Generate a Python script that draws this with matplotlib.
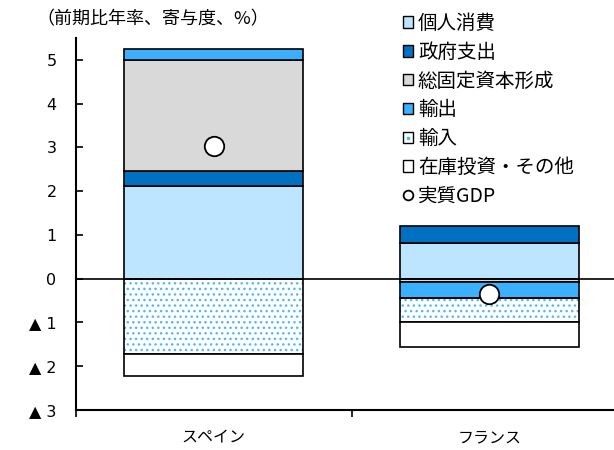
import matplotlib
matplotlib.use("Agg")
import matplotlib.pyplot as plt
import numpy as np
from matplotlib.patches import Patch
from matplotlib.lines import Line2D
from matplotlib.legend_handler import HandlerTuple

plt.rcParams['font.family'] = ['Noto Sans CJK JP', 'DejaVu Sans']

# data
countries = ['スペイン', 'フランス']
consumption = [2.11, 0.81]
government = [0.34, 0.40]
investment = [2.55, -0.07]
exports = [0.26, -0.36]
imports = [-1.72, -0.56]
inventory = [-0.50, -0.57]
gdp = [3.04, -0.34]

yticks = [-3, -2, -1, 0, 1, 2, 3, 4, 5]
ytick_labels = ['▲ 3', '▲ 2', '▲ 1', '0', '1', '2', '3', '4', '5']

series = [
    ('個人消費', consumption, '#BDE5FF', None),
    ('政府支出', government, '#0070C0', None),
    ('総固定資本形成', investment, '#D9D9D9', None),
    ('輸出', exports, '#3BB0FF', None),
    ('輸入', imports, 'white', '...'),
    ('在庫投資・その他', inventory, 'white', None),
]
dot_color = '#4DB8FF'

fig = plt.figure(figsize=(6.14, 4.5), dpi=100)
ax = fig.add_axes([76 / 614, 1 - 410 / 450, 551 / 614, 372 / 450])

x = np.arange(len(countries))
width = 0.65
pos_base = np.zeros(len(countries))
neg_base = np.zeros(len(countries))
for name, vals, color, hatch in series:
    vals = np.array(vals)
    bottoms = np.where(vals >= 0, pos_base, neg_base)
    if hatch:
        ax.bar(x, vals, width, bottom=bottoms, color=color, edgecolor=dot_color,
               hatch=hatch, linewidth=0, zorder=2)
        ax.bar(x, vals, width, bottom=bottoms, facecolor='none', edgecolor='black',
               linewidth=1.2, zorder=3)
    else:
        ax.bar(x, vals, width, bottom=bottoms, color=color, edgecolor='black',
               linewidth=1.2, zorder=3)
    pos_base = pos_base + np.where(vals >= 0, vals, 0)
    neg_base = neg_base + np.where(vals < 0, vals, 0)

ax.axhline(0, color='black', linewidth=1.2, zorder=4)
ax.plot(x, gdp, 'o', markersize=14, markerfacecolor='white', markeredgecolor='black',
        markeredgewidth=1.3, zorder=5)

ax.set_xlim(-0.5, 1.5)
ax.set_ylim(-3, 5.5)
ax.set_yticks(yticks)
ax.set_yticklabels(ytick_labels, fontsize=11.5, family=['DejaVu Sans'])
ax.tick_params(axis='y', direction='in', length=5, width=1.2, pad=14)
ax.set_xticks(x)
ax.set_xticklabels(countries, fontsize=11.5)
ax.tick_params(axis='x', which='major', length=0, pad=14)
ax.set_xticks([-0.5, 0.5, 1.5], minor=True)
ax.tick_params(axis='x', which='minor', direction='out', length=5, width=1.2)
for s in ['top', 'right']:
    ax.spines[s].set_visible(False)
for s in ['left', 'bottom']:
    ax.spines[s].set_linewidth(1.5)

fig.text(36 / 614, 1 - 19 / 450, '（前期比年率、寄与度、%）', fontsize=13, va='center', ha='left')

handles = []
for name, vals, color, hatch in series:
    if hatch:
        handles.append((Patch(facecolor='white', edgecolor='black'),
                        Line2D([], [], marker='s', markersize=2, linestyle='none',
                               color=dot_color)))
    else:
        handles.append(Patch(facecolor=color, edgecolor='black'))
handles.append(Line2D([], [], marker='o', linestyle='none', markersize=7,
                      markerfacecolor='white', markeredgecolor='black', markeredgewidth=1.3))
labels = [s[0] for s in series] + ['実質GDP']
fig.legend(handles=handles, labels=labels, loc='upper left',
           bbox_to_anchor=(403 / 614, 1 - 13 / 450),
           handler_map={tuple: HandlerTuple(ndivide=1)},
           frameon=False, fontsize=14, handlelength=0.52, handleheight=0.52,
           handletextpad=0.25, labelspacing=0.4, borderaxespad=0, borderpad=0)

fig.savefig('out.png', dpi=100)
